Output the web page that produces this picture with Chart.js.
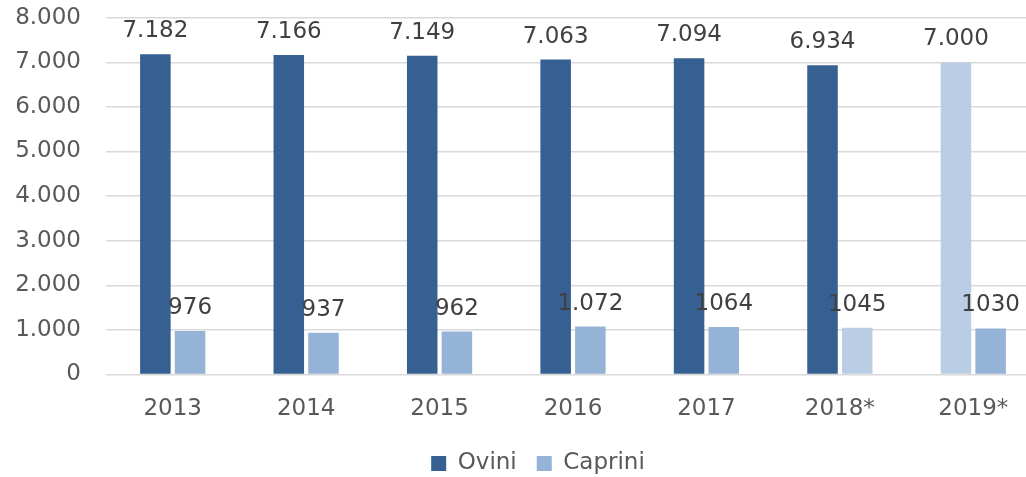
<!DOCTYPE html>
<html>
<head>
<meta charset="utf-8">
<script src="https://cdn.jsdelivr.net/npm/chart.js@4"></script>
<style>
html,body{margin:0;padding:0;overflow:hidden;background:#fff;width:1026px;height:477px;}
#wrap{width:1040px;height:522px;position:relative;margin-top:-21px;}
</style>
</head>
<body>
<div id="wrap"><canvas id="c"></canvas></div>
<script>
const categories = ['2013','2014','2015','2016','2017','2018*','2019*'];
const ovini = [7182, 7166, 7149, 7063, 7094, 6934, 7000];
const caprini = [976, 937, 962, 1072, 1064, 1045, 1030];
const oviniLabels = ['7.182','7.166','7.149','7.063','7.094','6.934','7.000'];
const capriniLabels = ['976','937','962','1.072','1064','1045','1030'];
const oviniColors = ['#376092','#376092','#376092','#376092','#376092','#376092','#B9CDE5'];
const capriniColors = ['#95B3D7','#95B3D7','#95B3D7','#95B3D7','#95B3D7','#B9CDE5','#95B3D7'];
const FONT = '"DejaVu Sans", sans-serif';

function fmt(v){ return String(v).replace(/\B(?=(\d{3})+(?!\d))/g,'.'); }

const labelPlugin = {
  id: 'barLabels',
  afterDatasetsDraw(chart){
    const ctx = chart.ctx;
    const sets = [oviniLabels, capriniLabels];
    ctx.save();
    ctx.font = '23px ' + FONT;
    ctx.fillStyle = '#404040';
    ctx.textAlign = 'center';
    ctx.textBaseline = 'alphabetic';
    chart.data.datasets.forEach((ds, di) => {
      chart.getDatasetMeta(di).data.forEach((bar, i) => {
        ctx.fillText(sets[di][i], bar.x, bar.y - 17);
      });
    });
    ctx.restore();
  }
};
const legendShift = {
  id: 'legendShift',
  afterLayout(chart){
    if (chart.legend){
      chart.legend.left += 18; chart.legend.right += 18;
      chart.legend.top -= 12; chart.legend.bottom -= 12;
    }
  }
};

new Chart(document.getElementById('c'), {
  type: 'bar',
  data: {
    labels: categories,
    datasets: [
      { label: 'Ovini', data: ovini, backgroundColor: oviniColors, borderWidth: 0 },
      { label: 'Caprini', data: caprini, backgroundColor: capriniColors, borderWidth: 0 }
    ]
  },
  options: {
    responsive: true,
    maintainAspectRatio: false,
    animation: false,
    devicePixelRatio: 1,
    layout: { padding: { top: 17, left: 0, right: 0, bottom: 4 } },
    datasets: { bar: { categoryPercentage: 0.52, barPercentage: 0.88 } },
    scales: {
      x: {
        grid: { display: false, drawTicks: false },
        border: { display: false },
        ticks: { color: '#595959', font: { family: FONT, size: 23 }, padding: 21 }
      },
      y: {
        min: 0, max: 8000,
        grid: { color: '#D9D9D9', lineWidth: 1.5, drawTicks: false },
        border: { display: false },
        ticks: { stepSize: 1000, color: '#595959', font: { family: FONT, size: 23 }, padding: 25,
                 callback: v => fmt(v) },
        afterFit: s => { s.width = 106; }
      }
    },
    plugins: {
      legend: {
        position: 'bottom',
        labels: { boxWidth: 15, boxHeight: 15, color: '#595959', font: { family: FONT, size: 23 }, padding: 20 }
      },
      tooltip: { enabled: false }
    }
  },
  plugins: [labelPlugin, legendShift]
});
</script>
</body>
</html>
